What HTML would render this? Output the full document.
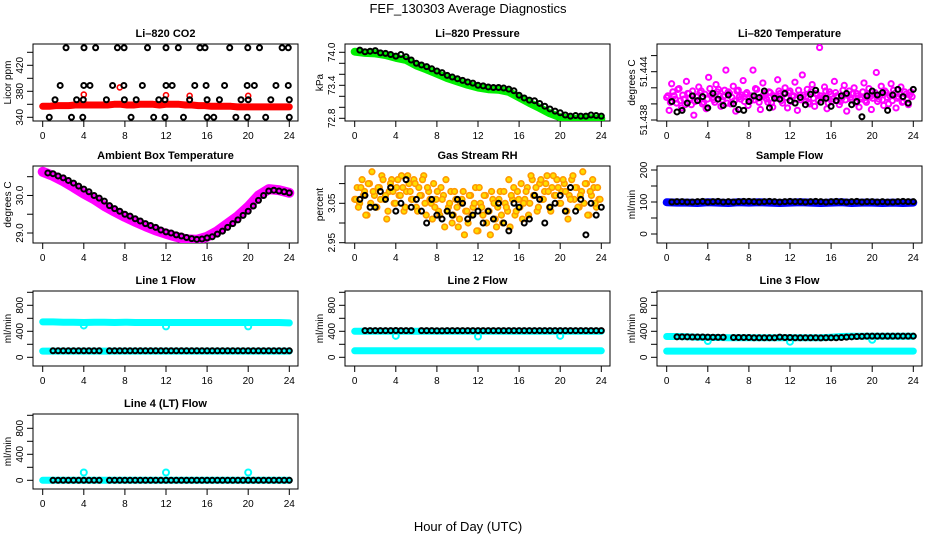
<!DOCTYPE html>
<html><head><meta charset="utf-8"><style>
html,body{margin:0;padding:0;background:#fff;}
svg{display:block;font-family:"Liberation Sans",Arial,sans-serif;}
</style></head><body>
<svg id="chart" width="936" height="540" viewBox="0 0 936 540">
<rect width="936" height="540" fill="#fff"/>
<text x="468" y="13" font-size="13" text-anchor="middle">FEF_130303  Average Diagnostics</text>
<text x="468" y="531" font-size="13" text-anchor="middle">Hour of Day (UTC)</text>
</svg>
<script>
const xTicks=[0,4,8,12,16,20,24];
const halfHours=[0.5,1,1.5,2,2.5,3,3.5,4,4.5,5,5.5,6,6.5,7,7.5,8,8.5,9,9.5,10,10.5,11,11.5,12,12.5,13,13.5,14,14.5,15,15.5,16,16.5,17,17.5,18,18.5,19,19.5,20,20.5,21,21.5,22,22.5,23,23.5,24];
const hourly=[0,1,2,3,4,5,6,7,8,9,10,11,12,13,14,15,16,17,18,19,20,21,22,23,24];
const flowBlackH=[1,1.5,2,2.5,3,3.5,4,4.5,5,5.5,6.5,7,7.5,8,8.5,9,9.5,10,10.5,11,11.5,12,12.5,13,13.5,14,14.5,15,15.5,16,16.5,17,17.5,18,18.5,19,19.5,20,20.5,21,21.5,22,22.5,23,23.5,24];
const dipH=[4,12,20];
const cloudStep=0.24;

// CO2
const co2Red=[357,357,358,358,358,359,359,359,359,359,359,360,360,359,359,360,360,360,359,360,360,360,359,359,358,358,357,357,357,357,356,356,356,356,356,356,356,356,356];
const co2RedOutH=[4,7.5,12,14.3,20];
const co2RedOutV=[375,386,374,373,373];
const co2BlackH=[2.27,4.02,5.15,7.27,7.92,10.2,12.0,13.2,15.3,15.8,18.2,19.96,21.1,23.3,23.9,1.7,4.0,4.6,6.8,7.9,9.7,12.0,12.6,14.8,15.9,17.7,19.9,20.6,22.7,23.9,1.2,3.3,3.95,6.2,7.95,9.1,11.3,11.9,14.3,16.0,17.2,19.3,20.0,22.2,24.0,0.64,2.8,3.9,8.6,10.8,11.9,13.7,16.0,16.65,18.8,19.9,21.7,24.0];
const co2BlackV=[447,447,447,447,447,447,447,447,447,447,447,447,447,447,447,389,389,389,389,389,389,389,389,389,389,389,389,389,389,389,367,367,367,367,367,367,367,367,367,367,367,367,367,367,367,340,340,340,340,340,340,340,340,340,340,340,340,340];
// Pressure
const presGreen=[74.01,73.99,73.98,73.95,73.90,73.86,73.76,73.69,73.61,73.53,73.47,73.41,73.36,73.33,73.32,73.28,73.18,73.08,72.99,72.89,72.82,72.79,72.79,72.80,72.79];
const presBlack=[74.04,74.01,74.02,74.03,73.99,73.98,73.96,73.93,73.96,73.92,73.86,73.80,73.77,73.74,73.70,73.66,73.63,73.58,73.55,73.52,73.49,73.46,73.44,73.40,73.39,73.37,73.36,73.36,73.35,73.33,73.30,73.22,73.17,73.13,73.12,73.07,73.02,72.97,72.93,72.90,72.86,72.84,72.85,72.84,72.84,72.86,72.85,72.84];
// Temperature (thousandths of a degree above tempBase)
const tempBase=51.438;
const tempMagenta=[2.8,1.2,4.5,3.0,2.1,3.9,1.5,2.6,4.8,3.3,1.9,0.6,2.9,4.1,3.6,2.2,1.4,5.3,3.1,2.5,4.4,3.8,1.7,2.9,6.2,3.5,2.0,4.2,1.1,3.7,2.6,4.9,3.2,1.8,2.4,6.2,3.9,2.7,1.3,4.6,3.0,2.2,3.4,1.6,2.8,5.0,3.3,2.1,4.0,1.5,3.6,2.9,4.7,1.2,3.1,5.6,2.4,3.8,2.0,4.4,1.7,3.2,9.0,2.6,4.1,1.4,3.5,2.3,4.8,3.0,1.9,2.7,4.3,1.1,3.6,2.5,4.0,3.3,1.6,2.8,4.6,2.2,3.9,1.3,3.1,5.9,2.6,4.2,1.8,3.4,2.0,4.5,3.7,1.5,2.9,4.1,2.3,3.2,1.9,3.5];
const tempMagenta2=[3.0,2.2,3.5,2.6,3.8,2.4,3.1,1.9,3.3,2.7,3.6,2.3,2.9,3.4,2.0,3.2,2.6,3.9,2.8,2.2,3.5,3.0,2.5,3.7,2.1,3.3,2.8,2.4,3.6,2.9,3.1,2.3,3.4,2.7,3.0,2.5,3.8,2.2,2.9,3.3,2.6,3.5,2.1,3.0,2.7,3.6,2.4,3.2,2.8,3.4,2.3,3.0,2.6,3.7,2.5,3.1,2.9,2.2,3.5,2.7,3.3,2.4,3.0,2.8,3.6,2.1,3.2,2.6,3.4,2.9,2.3,3.7,2.5,3.1,2.8,3.3,2.2,3.0,2.6,3.5,2.4,3.2,2.9,2.7,3.4,2.3,3.1,2.5,3.6,2.8,3.0,2.4,3.3,2.7,3.2,2.2,3.5,2.6,3.1,2.9];
const tempBlack=[2.3,1.0,1.2,2.1,3.0,2.4,2.9,1.5,3.3,2.6,1.8,3.1,2.0,1.3,1.2,2.3,3.0,2.8,3.6,1.5,2.7,2.6,3.3,2.4,2.1,2.8,1.9,3.2,3.7,2.2,2.7,1.7,2.4,3.0,3.3,1.9,2.3,0.4,3.0,3.6,3.1,3.4,1.2,3.1,3.8,2.9,2.1,3.8];
// Ambient
const ambMagenta=[30.63,30.52,30.38,30.22,30.05,29.9,29.72,29.57,29.43,29.3,29.18,29.07,28.98,28.9,28.83,28.82,28.9,29.05,29.25,29.45,29.7,30.0,30.17,30.14,30.07];
const ambBlack=[30.6,30.58,30.52,30.47,30.4,30.33,30.25,30.17,30.1,30.0,29.93,29.85,29.73,29.65,29.58,29.5,29.45,29.38,29.32,29.25,29.2,29.15,29.08,29.03,29.0,28.95,28.92,28.88,28.85,28.83,28.84,28.87,28.9,28.97,29.05,29.15,29.25,29.35,29.47,29.58,29.72,29.87,30.0,30.12,30.14,30.12,30.1,30.07];
// RH
const rhCloud=[3.06,3.09,3.05,3.11,3.08,3.02,3.10,3.13,3.07,3.04,3.09,3.12,3.06,3.01,3.08,3.11,3.05,3.09,3.07,3.12,3.03,3.08,3.10,3.06,3.11,3.04,3.09,3.07,3.12,3.02,3.08,3.05,3.10,3.06,3.03,3.09,3.07,3.11,3.04,3.08,3.02,3.06,2.99,3.05,3.08,3.03,3.00,3.07,3.04,3.09,2.98,3.05,3.02,3.07,3.03,2.97,3.06,3.01,3.04,3.08,3.00,3.05,3.03,2.99,3.06,3.02,3.08,3.04,3.01,3.06,3.09,3.05,3.11,3.07,3.03,3.10,3.06,3.08,3.12,3.04,3.09,3.07,3.11,3.05,3.08,3.10,3.03,3.07,3.11,3.06,3.09,3.04,3.08,3.05,3.10,3.02,3.07,3.09,3.04,3.06];
const rhBlack=[3.06,3.07,3.04,3.04,3.08,3.06,3.09,3.03,3.05,3.11,3.04,3.06,3.03,3.00,3.06,3.02,3.01,3.03,3.02,3.06,3.05,3.01,3.02,3.03,3.00,3.03,3.01,3.05,3.00,2.98,3.05,3.04,3.00,3.01,3.07,3.06,3.00,3.04,3.05,3.07,3.03,3.09,3.03,3.06,2.97,3.05,3.02,3.04];
// Sample flow
const sampBlue=[99,98,98,97,99,98,97,99,98,99,98,97,98,99,98,97,98,99,97,98,98,97,98,97,98];
const sampBlack=[100,101,101,100,100,101,102,100,101,102,100,101,100,101,102,102,101,100,101,102,101,100,101,102,101,101,100,101,102,101,100,101,102,101,100,101,102,100,101,101,100,101,100,100,101,102,101,101];
// Line flows
const l1Upper=[545,545,540,540,535,540,540,535,540,535,535,535,535,535,535,535,535,535,535,535,535,535,535,535,530];
const l1Lower=[95,95,96,96,95,95,96,95,96,95,96,95,95,96,95,95,96,95,95,96,95,95,96,95,95];
const l1Dip=[490,475,475];
const l1Black=[100,100,100,100,100,100,100,100,100,100,100,100,100,100,100,100,100,100,100,100,100,100,100,100,100,100,100,100,100,100,100,100,100,100,100,100,100,100,100,100,100,100,100,100,100,100];
const l2Upper=[400,402,402,400,400,400,402,400,400,400,400,400,400,400,400,400,400,400,400,400,400,400,400,400,400];
const l2Lower=[100,100,100,100,100,100,100,100,100,100,100,100,100,100,100,100,100,100,100,100,100,100,100,100,100];
const l2Dip=[330,320,330];
const l2Black=[410,410,410,410,410,410,412,410,410,410,410,410,410,408,408,410,410,410,410,410,410,410,410,410,410,410,410,410,410,410,410,410,410,410,410,410,410,410,410,410,410,410,410,410,410,410];
const l3Upper=[320,320,315,310,305,305,300,300,300,300,300,300,300,300,300,300,310,320,325,325,325,325,325,325,325];
const l3Lower=[95,95,96,96,95,95,96,95,96,95,96,95,95,96,95,95,96,95,95,96,95,95,96,95,95];
const l3Dip=[250,240,270];
const l3Black=[315,315,315,312,312,312,310,308,308,308,305,305,305,305,300,300,300,300,300,310,305,305,300,300,300,300,300,298,300,300,300,305,310,315,320,322,325,325,325,325,325,325,325,325,325,325];
const l4Line=[0,0,0,0,0,0,0,0,0,0,0,0,0,0,0,0,0,0,0,0,0,0,0,0,0];
const l4Spike=[120,120,120];
const l4Black=[0,0,0,0,0,0,0,0,0,0,0,0,0,0,0,0,0,0,0,0,0,0,0,0,0,0,0,0,0,0,0,0,0,0,0,0,0,0,0,0,0,0,0,0,0,0];

const svg=document.getElementById('chart');
const NS='http://www.w3.org/2000/svg';
function mk(tag,attrs,parent){const e=document.createElementNS(NS,tag);for(const k in attrs)e.setAttribute(k,attrs[k]);(parent||svg).appendChild(e);return e;}
const colL=[33,345,657];
const rowT=[44,166,291,414];
const rowB=[121,243,366,489];

function panel(col,row,title,ylab,yref,ticks,labels,name,fmt){
  const L=colL[col],R=L+265,T=rowT[row],B=rowB[row];
  const g=mk('g',{});
  
  
  const x=h=>L+9.7+h*(246.6/24);
  const y=v=>yref[1]+(v-yref[0])*(yref[3]-yref[1])/(yref[2]-yref[0]);
  const t=mk('text',{x:(L+R)/2,y:T-7,'font-size':11,'font-weight':'bold','text-anchor':'middle'},g);
  t.textContent=title;
  
  
  const fr=mk('rect',{x:L,y:T,width:R-L,height:B-T,fill:'none',stroke:'#000','stroke-width':1},g);
  
  
  xTicks.forEach(h=>{
    mk('line',{x1:x(h),x2:x(h),y1:B,y2:B+6,stroke:'#000'},g);
    const tl=mk('text',{x:x(h),y:B+18,'font-size':10,'text-anchor':'middle'},g);
    tl.textContent=h;
    
    
  });
  mk('line',{x1:x(0),x2:x(24),y1:B,y2:B,stroke:'#000'},g);
  ticks.forEach(v=>mk('line',{x1:L,x2:L-6,y1:y(v),y2:y(v),stroke:'#000'},g));
  mk('line',{x1:L,x2:L,y1:y(ticks[0]),y2:y(ticks[ticks.length-1]),stroke:'#000'},g);
  labels.forEach(v=>{
    const tl=mk('text',{x:0,y:0,'font-size':10,'text-anchor':'middle',transform:`translate(${L-10},${y(v)}) rotate(-90)`},g);
    tl.textContent=fmt?fmt(v):String(v);
    
    
  });
  const yl=mk('text',{x:0,y:0,'font-size':10,'text-anchor':'middle',transform:`translate(${L-22},${(T+B)/2}) rotate(-90)`},g);
  yl.textContent=ylab;
  
  
  const clip='clip'+col+row;
  const cp=mk('clipPath',{id:clip},g);mk('rect',{x:L,y:T,width:R-L,height:B-T},cp);
  const data=mk('g',{'clip-path':`url(#${clip})`},g);
  return {x,y,data};
}
function pts(p,hs,vs,color,opt){
  opt=opt||{};
  const g=mk('g',{},p.data);
  
  
  vs.forEach((v,i)=>{
    mk('circle',{cx:p.x(hs[i]),cy:p.y(v),r:opt.r||2.5,fill:opt.fill||'none',stroke:color,'stroke-width':opt.sw||1.6},g);
  });
}
function band(p,hs,vs,color,w,name){
  const d=vs.map((v,i)=>(i?'L':'M')+p.x(hs[i]).toFixed(1)+','+p.y(v).toFixed(1)).join('');
  const e=mk('path',{d,fill:'none',stroke:color,'stroke-width':w,'stroke-linecap':'round','stroke-linejoin':'round'},p.data);
  
  
}
const stepHours=n=>{const a=[];for(let i=0;i<n;i++)a.push(i*cloudStep);return a;};
const co2H=[];for(let i=0;i<co2Red.length;i++)co2H.push(i*24/(co2Red.length-1));

// CO2
let p=panel(0,0,'Li\u2013820 CO2','Licor ppm',[340,117.3,440,52.3],[340,360,380,400,420,440],[340,380,420],'co2');
band(p,co2H,co2Red,'#ff0000',7,'co2-red-band');
pts(p,co2RedOutH,co2RedOutV,'#ff0000',{name:'co2-red-outliers'});
pts(p,co2BlackH,co2BlackV,'#000',{name:'co2-black-points',sw:2});
// Pressure
p=panel(1,0,'Li\u2013820 Pressure','kPa',[74.0,52.3,72.8,118.3],[72.8,73.0,73.2,73.4,73.6,73.8,74.0],[72.8,73.4,74.0],'pressure',v=>v.toFixed(1));
band(p,hourly,presGreen,'#00ee00',8,'pressure-green-band');
pts(p,halfHours,presBlack,'#000',{name:'pressure-black-points',sw:2});
// Temperature
p=panel(2,0,'Li\u2013820 Temperature','degrees C',[0,120,6,71.7],[0,2,4,6,8],[0,6],'temperature',v=>(tempBase+v/1000).toFixed(3));
pts(p,stepHours(tempMagenta.length),tempMagenta,'#ff00ff',{name:'temperature-magenta-points',r:2.6,sw:2});
pts(p,stepHours(tempMagenta2.length).map(h=>h+0.12),tempMagenta2,'#ff00ff',{name:'temperature-magenta-points-2',r:2.6,sw:2});
pts(p,halfHours,tempBlack,'#000',{name:'temperature-black-points',sw:2});
// Ambient
p=panel(0,1,'Ambient Box Temperature','degrees C',[30.5,176.7,29.0,233],[29.0,29.5,30.0,30.5],[29.0,30.0],'ambient',v=>v.toFixed(1));
band(p,hourly,ambMagenta,'#ff00ff',10,'ambient-magenta-band');
pts(p,halfHours,ambBlack,'#000',{name:'ambient-black-points',sw:2});
// RH
p=panel(1,1,'Gas Stream RH','percent',[3.05,203.3,2.95,242.7],[2.95,3.00,3.05,3.10],[2.95,3.05],'rh',v=>v.toFixed(2));
pts(p,stepHours(rhCloud.length),rhCloud,'#ff9900',{name:'rh-orange-points',r:2.8,sw:1.6,fill:'#ffdd00'});
pts(p,stepHours(rhCloud.length).map(h=>h+0.12),rhCloud.slice().reverse(),'#ff9900',{name:'rh-orange-points-2',r:2.8,sw:1.6,fill:'#ffdd00'});
pts(p,halfHours,rhBlack,'#000',{name:'rh-black-points',sw:2});
// Sample flow
p=panel(2,1,'Sample Flow','ml/min',[100,202,200,170],[0,50,100,150,200],[0,100,200],'sample-flow');
band(p,hourly,sampBlue,'#0000ff',8,'sample-blue-band');
pts(p,halfHours,sampBlack,'#000',{name:'sample-black-points',sw:2});
// flows
function flow(col,row,title,upper,lower,dipV,black,name){
  const q=panel(col,row,title,'ml/min',[0,357.3-(rowT[2]-rowT[row]),800,305.3-(rowT[2]-rowT[row])],[0,200,400,600,800,1000],[0,400,800],name);
  if(upper)band(q,hourly,upper,'#00ffff',7,name+'-cyan-upper');
  if(lower)band(q,hourly,lower,'#00ffff',7,name+'-cyan-lower');
  pts(q,dipH,dipV,'#00ffff',{name:name+'-cyan-dips',r:3,sw:2});
  pts(q,flowBlackH,black,'#000',{name:name+'-black-points',sw:2});
}
flow(0,2,'Line 1 Flow',l1Upper,l1Lower,l1Dip,l1Black,'line1-flow');
flow(1,2,'Line 2 Flow',l2Upper,l2Lower,l2Dip,l2Black,'line2-flow');
flow(2,2,'Line 3 Flow',l3Upper,l3Lower,l3Dip,l3Black,'line3-flow');
flow(0,3,'Line 4 (LT) Flow',l4Line,null,l4Spike,l4Black,'line4-flow');
</script>
</body></html>
